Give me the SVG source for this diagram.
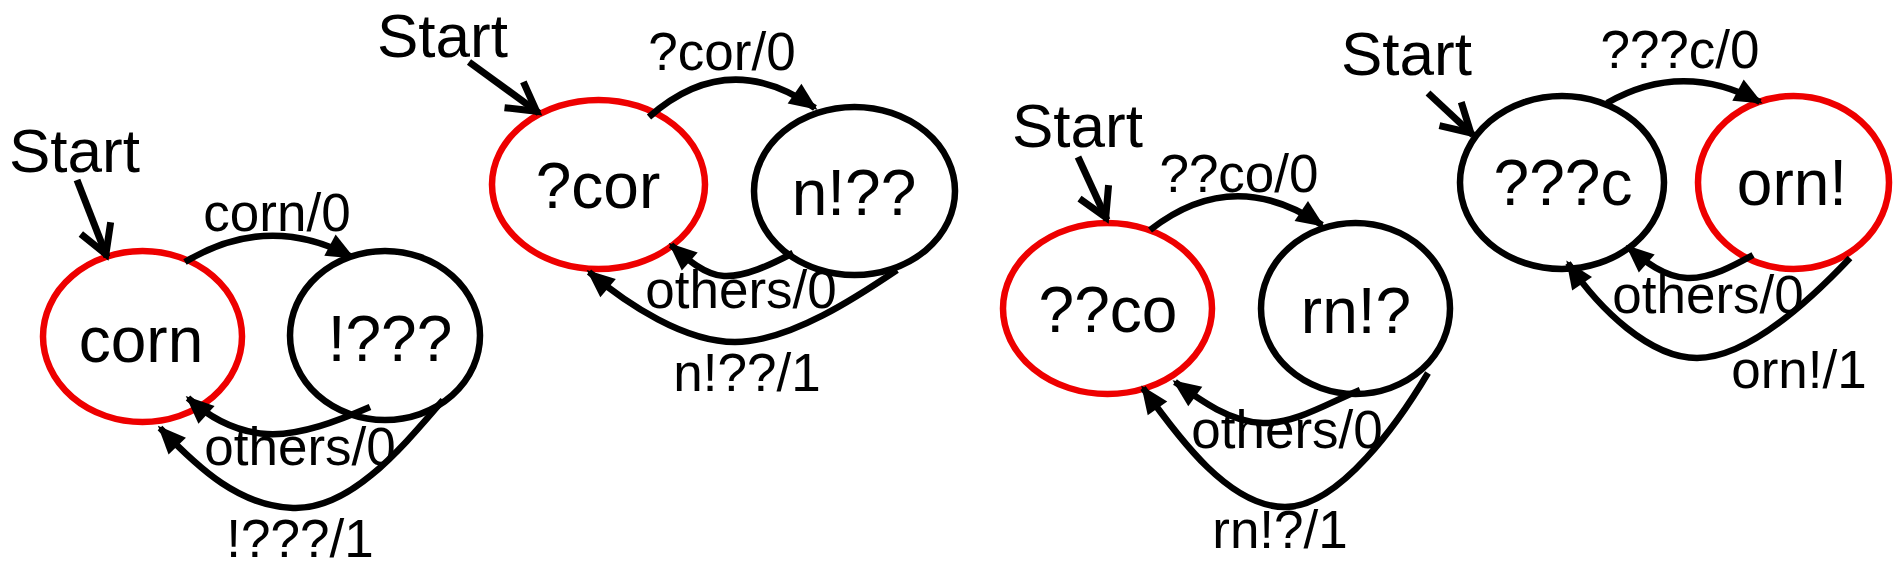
<svg xmlns="http://www.w3.org/2000/svg" width="1893" height="568" viewBox="0 0 1893 568">
<style>
  text { font-family: "Liberation Sans", Arial, sans-serif; fill: #000; }
  .st { font-size: 62px; }
  .nt { font-size: 64px; text-anchor: middle; }
  .lb { font-size: 53px; text-anchor: middle; }
  .node { fill: #fff; stroke: #000; stroke-width: 6.5; }
  .init { stroke: #ee0000; }
  .edge { fill: none; stroke: #000; stroke-width: 6.5; marker-end: url(#tri); }
  .start { fill: none; stroke: #000; stroke-width: 7; marker-end: url(#vee); }
</style>
<defs>
  <marker id="tri" markerUnits="userSpaceOnUse" markerWidth="32" markerHeight="28" viewBox="-28 -14 32 28" refX="0" refY="0" orient="auto" overflow="visible">
    <path d="M3,0 L-25,-12 L-25,12 Z" fill="#000"/>
  </marker>
  <marker id="vee" markerUnits="userSpaceOnUse" markerWidth="40" markerHeight="40" viewBox="-35 -20 40 40" refX="0" refY="0" orient="auto" overflow="visible">
    <path d="M-31,-16 L-3,0 L-31,16" fill="none" stroke="#000" stroke-width="7"/>
  </marker>
</defs>
<rect width="1893" height="568" fill="#fff"/>

<g id="nodes">
  <g id="n-corn"><ellipse class="node init" cx="142.5" cy="336.5" rx="99.5" ry="85.5"/><text class="nt" x="141" y="362">corn</text></g>
  <g id="n-excl3q"><ellipse class="node" cx="385" cy="335.5" rx="95" ry="84.5"/><text class="nt" x="390" y="361">!???</text></g>

  <g id="n-qcor"><ellipse class="node init" cx="598.5" cy="184.5" rx="106.5" ry="84.5"/><text class="nt" x="598" y="208">?cor</text></g>
  <g id="n-nexcl"><ellipse class="node" cx="854.5" cy="191" rx="100.5" ry="84"/><text class="nt" x="854" y="215">n!??</text></g>

  <g id="n-qqco"><ellipse class="node init" cx="1107.5" cy="308.5" rx="104.5" ry="85.5"/><text class="nt" x="1108" y="332">??co</text></g>
  <g id="n-rnexcl"><ellipse class="node" cx="1355.5" cy="308.5" rx="94.5" ry="85.5"/><text class="nt" x="1356" y="333">rn!?</text></g>

  <g id="n-qqqc"><ellipse class="node" cx="1562" cy="182.5" rx="102" ry="86.5"/><text class="nt" x="1563" y="205">???c</text></g>
  <g id="n-orn"><ellipse class="node init" cx="1793.5" cy="182.5" rx="95.5" ry="86.5"/><text class="nt" x="1792" y="205">orn!</text></g>
</g>

<g id="connectors">
  <path class="start" d="M77,180 L107,257"/>
  <path class="edge" d="M185,262 Q268,212 352,257"/>
  <path class="edge" d="M370,407 C340,420 300,436 267,434 C235,432 210,418 188,398"/>
  <path class="edge" d="M443,400 C400,450 350,510 293,508 C240,506 200,470 160,428"/>

  <path class="start" d="M469,62 L539,113"/>
  <path class="edge" d="M649,117 Q728,47 815,108"/>
  <path class="edge" d="M793,253 C770,265 745,277 724,276 C705,275 688,260 671,245"/>
  <path class="edge" d="M897,270 C860,295 790,342 735,342 C685,342 628,305 589,272"/>

  <path class="start" d="M1078,157 L1107,220"/>
  <path class="edge" d="M1150,230 Q1233,165 1322,225"/>
  <path class="edge" d="M1360,390 C1330,402 1295,424 1263,423 C1230,422 1200,400 1175,382"/>
  <path class="edge" d="M1428,373 C1400,420 1340,507 1285,507 C1230,507 1180,440 1143,388"/>

  <path class="start" d="M1428,93 L1473,135"/>
  <path class="edge" d="M1607,103 Q1682,60 1760,102"/>
  <path class="edge" d="M1753,255 C1735,265 1710,279 1687,278 C1665,277 1645,262 1628,247"/>
  <path class="edge" d="M1850,258 C1815,295 1750,358 1697,358 C1650,358 1600,310 1568,263"/>
</g>

<g id="labels">
  <text class="st" x="9" y="172">Start</text>
  <text class="lb" x="277" y="231">corn/0</text>
  <text class="lb" x="300" y="465">others/0</text>
  <text class="lb" x="300" y="557">!???/1</text>

  <text class="st" x="377" y="57">Start</text>
  <text class="lb" x="722" y="70">?cor/0</text>
  <text class="lb" x="741" y="308">others/0</text>
  <text class="lb" x="747" y="391">n!??/1</text>

  <text class="st" x="1012" y="147">Start</text>
  <text class="lb" x="1239" y="192">??co/0</text>
  <text class="lb" x="1287" y="448">others/0</text>
  <text class="lb" x="1280" y="548">rn!?/1</text>

  <text class="st" x="1341" y="75">Start</text>
  <text class="lb" x="1680" y="68">???c/0</text>
  <text class="lb" x="1708" y="313">others/0</text>
  <text class="lb" x="1799" y="388">orn!/1</text>
</g>
</svg>
